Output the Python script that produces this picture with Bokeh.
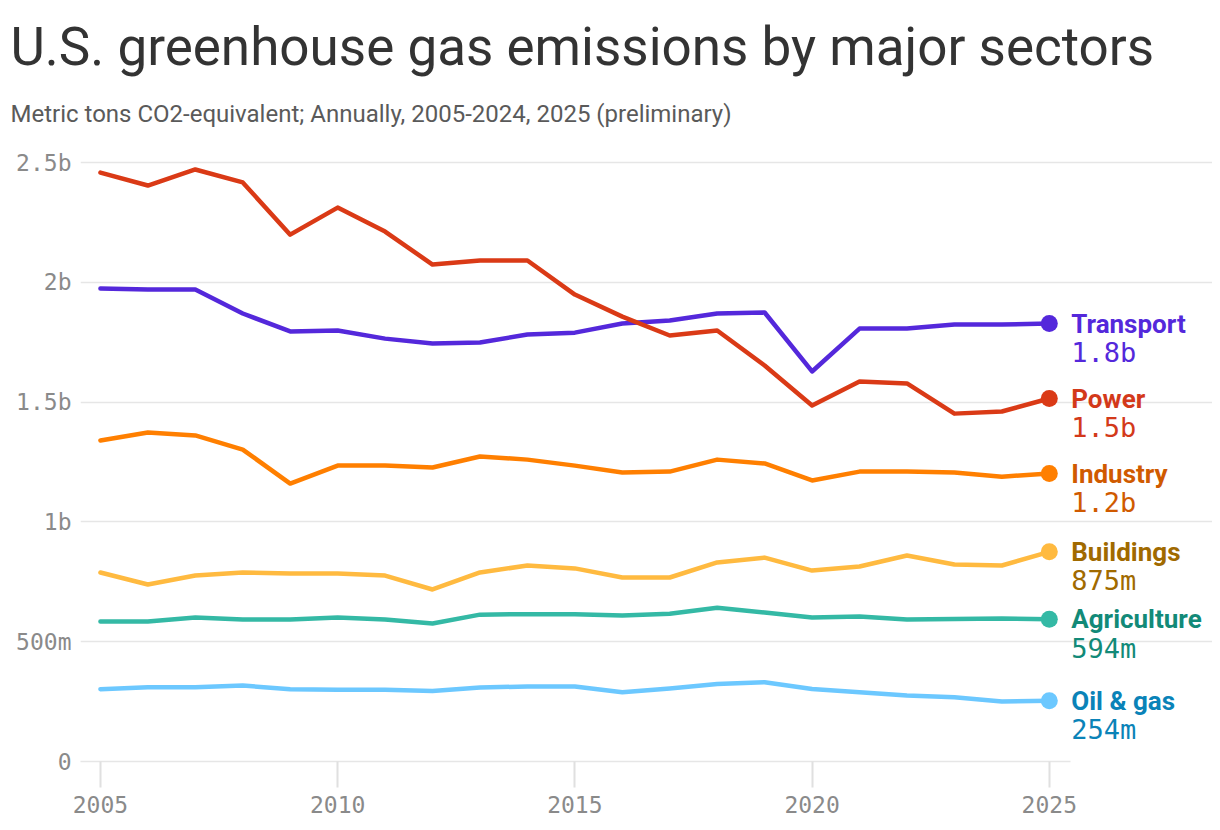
from bokeh.plotting import figure
from bokeh.models import Title, FixedTicker, ColumnDataSource, LabelSet, Range1d
from bokeh.core.properties import value
from bokeh.embed import file_html
from bokeh.resources import INLINE

years = list(range(2005, 2026))
sectors = ["Transport", "Power", "Industry", "Buildings", "Agriculture", "Oil & gas"]
transport = [1974, 1970, 1970, 1870, 1795, 1799, 1765, 1745, 1749, 1782, 1790, 1828, 1841, 1870, 1874, 1628, 1807, 1807, 1824, 1824, 1828]
power = [2458, 2404, 2471, 2417, 2199, 2312, 2212, 2074, 2091, 2091, 1949, 1857, 1778, 1799, 1653, 1486, 1586, 1578, 1452, 1461, 1515]
industry = [1340, 1373, 1361, 1302, 1160, 1235, 1235, 1227, 1273, 1260, 1235, 1206, 1210, 1260, 1244, 1173, 1210, 1210, 1206, 1189, 1202]
buildings = [789, 739, 776, 789, 785, 785, 776, 718, 789, 818, 806, 768, 768, 831, 851, 797, 814, 860, 822, 818, 875]
agriculture = [584, 584, 601, 593, 593, 601, 593, 576, 613, 615, 615, 609, 617, 642, 622, 601, 605, 593, 595, 597, 594]
oil_gas = [302, 310, 310, 317, 302, 299, 299, 294, 309, 313, 313, 289, 305, 323, 331, 303, 289, 275, 268, 250, 254]

line_colors = ["#5428DB", "#DA3A16", "#FF7F00", "#FFBA40", "#34B9A5", "#6CC8FF"]
label_colors = ["#5428DB", "#D3391A", "#D05A00", "#A06A00", "#128A78", "#0A83B8"]

y_ticks = [0, 500, 1000, 1500, 2000, 2500]
y_tick_labels = ["0", "500m", "1b", "1.5b", "2b", "2.5b"]
x_ticks = [2005, 2010, 2015, 2020, 2025]

series = [transport, power, industry, buildings, agriculture, oil_gas]

x0, x1 = 2004.58, 2025.44     # extent of the drawn grid
p = figure(width=1212, height=822, output_backend="svg", toolbar_location=None,
           x_range=Range1d(x0, 2028.44), y_range=Range1d(0, 2592),
           min_border_left=80, min_border_right=0, min_border_bottom=61, min_border_top=140,
           title="U.S. greenhouse gas emissions by major sectors")
p.title.text_font = "Roboto"
p.title.text_font_size = "53px"
p.title.text_font_style = "normal"
p.title.text_color = "#333333"
p.title.offset = -70
p.title.standoff = 16
p.add_layout(Title(text="Metric tons CO2-equivalent; Annually, 2005-2024, 2025 (preliminary)",
                   text_font="Roboto", text_font_size="24px", text_font_style="normal",
                   text_color="#5a5a5a", offset=-70, standoff=25), "above")

p.outline_line_color = None
p.xgrid.grid_line_color = None
p.ygrid.grid_line_color = "#e6e6e6"
p.ygrid.grid_line_width = 1.5
p.ygrid.ticker = FixedTicker(ticks=y_ticks)
p.ygrid.bounds = (x0, x1)

p.yaxis.ticker = FixedTicker(ticks=y_ticks)
p.yaxis.major_label_overrides = dict(zip(y_ticks, y_tick_labels))
p.yaxis.axis_line_color = None
p.yaxis.major_tick_line_color = None
p.yaxis.minor_tick_line_color = None
p.yaxis.major_label_standoff = 3
p.yaxis.major_label_text_font = "DejaVu Sans Mono"
p.yaxis.major_label_text_font_size = "23px"
p.yaxis.major_label_text_color = "#8a8a8a"

p.xaxis.ticker = FixedTicker(ticks=x_ticks)
p.xaxis.bounds = (x0, x1)
p.xaxis.axis_line_color = "#e6e6e6"
p.xaxis.axis_line_width = 1.5
p.xaxis.major_tick_line_color = "#e0e0e0"
p.xaxis.major_tick_line_width = 2
p.xaxis.major_tick_in = 0
p.xaxis.major_tick_out = 26
p.xaxis.minor_tick_line_color = None
p.xaxis.major_label_standoff = 8
p.xaxis.major_label_text_font = "DejaVu Sans Mono"
p.xaxis.major_label_text_font_size = "23px"
p.xaxis.major_label_text_color = "#8a8a8a"

for vals, c in zip(series, line_colors):
    p.line(years, vals, line_color=c, line_width=4.5, line_join="round", line_cap="round")

last_vals = [s[-1] for s in series]

def fmt(v):
    return f"{v/1000:.1f}b" if v >= 1000 else f"{v:.0f}m"

src = ColumnDataSource(dict(x=[years[-1]] * len(sectors), y=last_vals, name=sectors,
                            val=[fmt(v) for v in last_vals], lc=line_colors, tc=label_colors))
p.scatter("x", "y", source=src, size=17, color="lc", line_color=None)

p.add_layout(LabelSet(x="x", y="y", text="name", source=src, x_offset=22, y_offset=0,
                      text_baseline="middle", text_align="left", text_color="tc",
                      text_font=value("Roboto"), text_font_size="26px", text_font_style="bold"))
p.add_layout(LabelSet(x="x", y="y", text="val", source=src, x_offset=22, y_offset=-29,
                      text_baseline="middle", text_align="left", text_color="tc",
                      text_font=value("DejaVu Sans Mono"), text_font_size="27px"))

open("out.html", "w").write(file_html(p, INLINE))
